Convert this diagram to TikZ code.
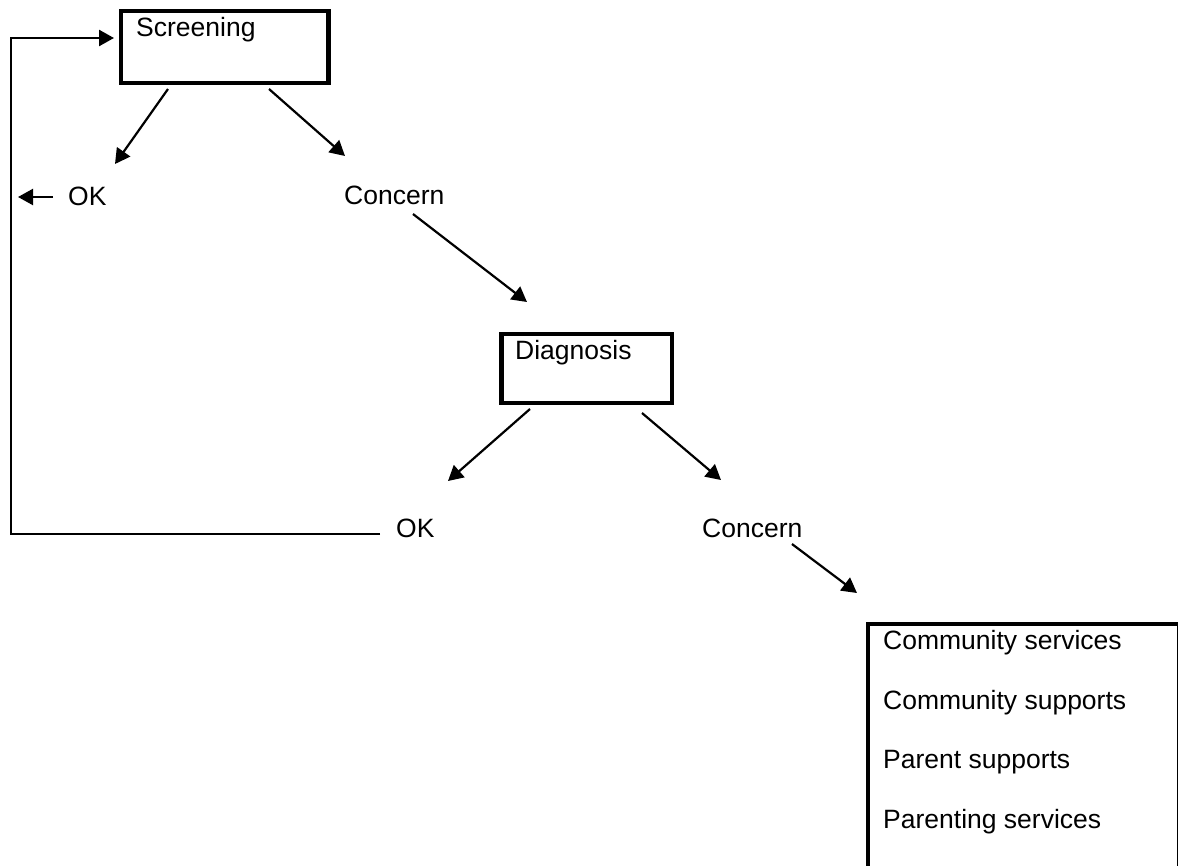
\documentclass[tikz,border=0pt]{standalone}
\usepackage{fontspec}
\setmainfont{Liberation Sans}
\usetikzlibrary{arrows.meta}
\begin{document}
\begin{tikzpicture}[x=1pt,y=-1pt,
  box/.style={draw, line width=4.5pt, inner sep=0pt, outer sep=0pt, anchor=north west},
  lbl/.style={inner sep=0pt, anchor=base west, font=\fontsize{26.5}{30}\selectfont},
  conn/.style={line width=2.2pt, -{Triangle[length=15pt,width=16pt]}},
  loopline/.style={line width=2.5pt}]
\useasboundingbox (0,0) rectangle (1178,865);
\clip (0,0) rectangle (1178,865);

% boxes
\node[box, minimum width=207.5pt, minimum height=72pt] (screen) at (121,11) {};
\node[box, minimum width=170.5pt, minimum height=69pt] (diag) at (501.5,334) {};
\node[box, minimum width=311pt, minimum height=320pt] (services) at (868,624) {};

% texts
\node[lbl] (screentxt) at (136,36) {Screening};
\node[lbl] (diagtxt) at (515,359) {Diagnosis};
\node[lbl] (ok1) at (68,205) {OK};
\node[lbl] (concern1) at (344,204) {Concern};
\node[lbl] (ok2) at (396,537) {OK};
\node[lbl] (concern2) at (702,537) {Concern};
\node[lbl] (s1) at (883,649) {Community services};
\node[lbl] (s2) at (883,709) {Community supports};
\node[lbl] (s3) at (883,768) {Parent supports};
\node[lbl] (s4) at (883,828) {Parenting services};

% connector end points
\coordinate (sA) at (168,89);  \coordinate (tA) at (115,164);
\coordinate (sB) at (269,89);  \coordinate (tB) at (345,156);
\coordinate (sC) at (413,214); \coordinate (tC) at (527,302);
\coordinate (sD) at (530,409); \coordinate (tD) at (448,481);
\coordinate (sE) at (642,413); \coordinate (tE) at (721,480);
\coordinate (sF) at (792,544); \coordinate (tF) at (857,593);
\coordinate (okA) at (53,197); \coordinate (okB) at (18,197);
\coordinate (fbstart) at (380,534);
\coordinate (fbbot) at (11,534);
\coordinate (fbtop) at (11,38);
\coordinate (scrin) at (114,38);

% connectors
\draw[conn] (sA) -- (tA);
\draw[conn] (sB) -- (tB);
\draw[conn] (sC) -- (tC);
\draw[conn] (sD) -- (tD);
\draw[conn] (sE) -- (tE);
\draw[conn] (sF) -- (tF);
\draw[conn] (okA) -- (okB);
\draw[loopline, -{Triangle[length=15pt,width=16pt]}] (fbstart) -- (fbbot) -- (fbtop) -- (scrin);
\end{tikzpicture}
\end{document}
